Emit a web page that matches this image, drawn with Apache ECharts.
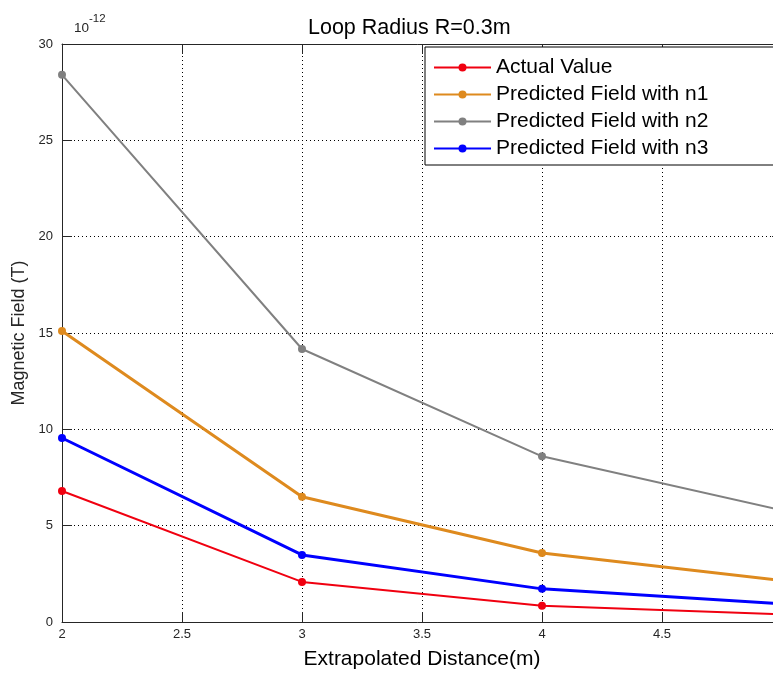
<!DOCTYPE html>
<html>
<head>
<meta charset="utf-8">
<script src="https://cdn.jsdelivr.net/npm/echarts@6/dist/echarts.min.js"></script>
<style>
html,body{margin:0;padding:0;background:#fff;}
#chart{width:773px;height:674px;}
</style>
</head>
<body>
<div id="chart"></div>
<script>
var distances = [2, 3, 4, 5];
var actualValue = [6.8, 2.08, 0.84, 0.4];
var predictedN1 = [15.1, 6.5, 3.58, 2.15];
var predictedN2 = [28.4, 14.17, 8.6, 5.8];
var predictedN3 = [9.55, 3.48, 1.72, 0.95];
var seriesNames = ['Actual Value', 'Predicted Field with n1', 'Predicted Field with n2', 'Predicted Field with n3'];
var seriesColors = ['#f00010', '#de8a1e', '#808080', '#0000ff'];
var seriesWidths = [2, 3, 2, 3];
var titleText = 'Loop Radius R=0.3m';
var xLabel = 'Extrapolated Distance(m)';
var yLabel = 'Magnetic Field (T)';

var FONT = 'Arial, "Liberation Sans", sans-serif';
var allData = [actualValue, predictedN1, predictedN2, predictedN3];

function pairs(vals) {
  return vals.map(function (v, i) { return [distances[i], v]; });
}

var series = allData.map(function (vals, i) {
  return {
    name: seriesNames[i],
    type: 'line',
    data: pairs(vals),
    symbol: 'circle',
    symbolSize: 8,
    showSymbol: true,
    lineStyle: { color: seriesColors[i], width: seriesWidths[i] },
    itemStyle: { color: seriesColors[i] },
    emphasis: { disabled: true },
    animation: false,
    z: 3 + i
  };
});

var chart = echarts.init(document.getElementById('chart'), null, { renderer: 'canvas' });
var axisCol = '#262626';
chart.setOption({
  backgroundColor: '#fff',
  animation: false,
  textStyle: { fontFamily: FONT },
  title: {
    text: titleText,
    left: 308,
    top: 17,
    padding: 0,
    textStyle: { fontFamily: FONT, fontSize: 21.5, fontWeight: 'normal', color: '#000' }
  },
  graphic: [{
    type: 'text',
    left: 74,
    top: 13,
    style: {
      text: '{b|10}{s|-12}',
      rich: {
        b: { fontFamily: FONT, fontSize: 13.5, fill: axisCol, padding: [8, 0, 0, 0] },
        s: { fontFamily: FONT, fontSize: 11.5, fill: axisCol, verticalAlign: 'top' }
      }
    }
  }],
  legend: {
    orient: 'vertical',
    left: 425,
    top: 47,
    padding: [10, 70, 6, 8],
    itemWidth: 57,
    itemHeight: 10,
    itemGap: 6,
    backgroundColor: '#fff',
    borderColor: '#000',
    borderWidth: 1,
    borderRadius: 0,
    textStyle: { fontFamily: FONT, fontSize: 21, color: '#000' },
    data: seriesNames,
    z: 10
  },
  grid: { left: 62, top: 44, right: -9, bottom: 52, containLabel: false, outerBoundsMode: 'none' },
  xAxis: [{
    type: 'value',
    min: 2, max: 5, interval: 0.5,
    position: 'bottom',
    name: xLabel,
    nameLocation: 'middle',
    nameGap: 27,
    nameTextStyle: { fontFamily: FONT, fontSize: 21, color: '#000' },
    axisLine: { show: true, onZero: false, lineStyle: { color: axisCol, width: 1 } },
    axisTick: { show: true, inside: true, length: 10, lineStyle: { color: axisCol } },
    axisLabel: { fontFamily: FONT, fontSize: 13, color: axisCol, margin: 6 },
    splitLine: { show: true, lineStyle: { color: '#000', type: [1, 3], width: 1 } }
  }, {
    type: 'value',
    min: 2, max: 5, interval: 0.5,
    position: 'top',
    axisLine: { show: true, onZero: false, lineStyle: { color: axisCol, width: 1 } },
    axisTick: { show: true, inside: true, length: 10, lineStyle: { color: axisCol } },
    axisLabel: { show: false },
    splitLine: { show: false }
  }],
  yAxis: [{
    type: 'value',
    min: 0, max: 30, interval: 5,
    position: 'left',
    name: yLabel,
    nameLocation: 'middle',
    nameGap: 26,
    nameRotate: 90,
    nameTextStyle: { fontFamily: FONT, fontSize: 18, color: axisCol },
    axisLine: { show: true, onZero: false, lineStyle: { color: axisCol, width: 1 } },
    axisTick: { show: true, inside: true, length: 10, lineStyle: { color: axisCol } },
    axisLabel: { fontFamily: FONT, fontSize: 13, color: axisCol, margin: 9 },
    splitLine: { show: true, lineStyle: { color: '#000', type: [1, 3], width: 1 } }
  }, {
    type: 'value',
    min: 0, max: 30, interval: 5,
    position: 'right',
    axisLine: { show: true, onZero: false, lineStyle: { color: axisCol, width: 1 } },
    axisTick: { show: true, inside: true, length: 10, lineStyle: { color: axisCol } },
    axisLabel: { show: false },
    splitLine: { show: false }
  }],
  series: series
});
</script>
</body>
</html>
